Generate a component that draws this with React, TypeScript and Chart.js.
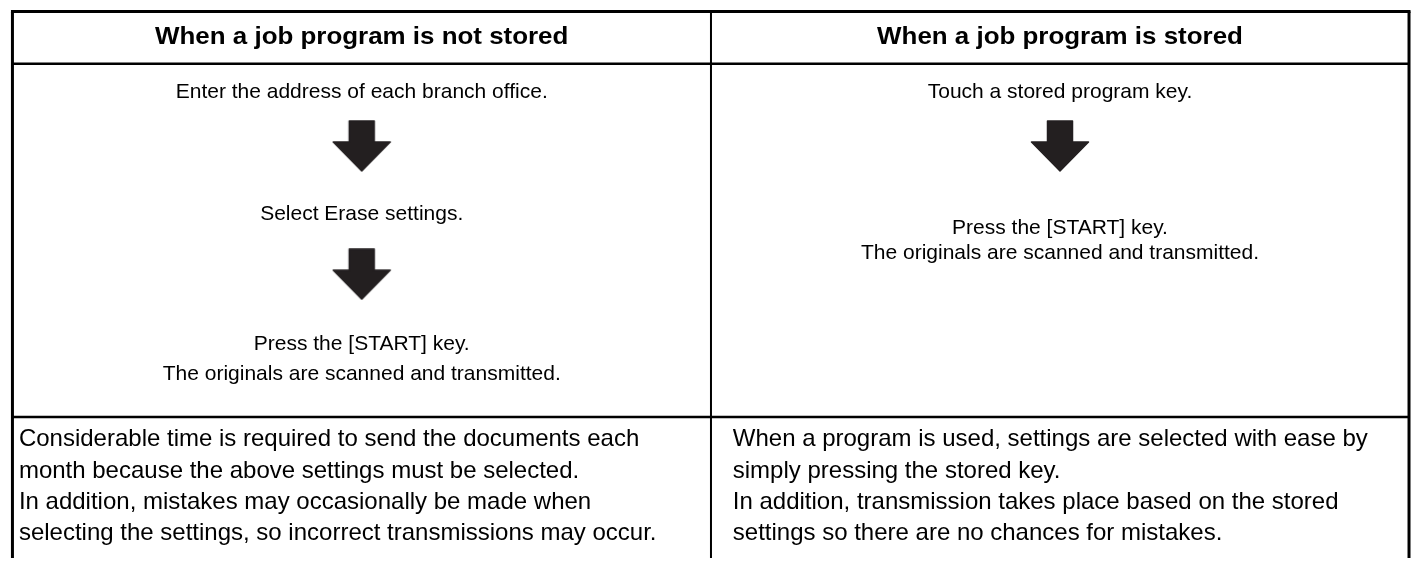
import { useEffect, useRef } from "react";
import { Chart, registerables } from "chart.js";

Chart.register(...registerables);

// ---------- data ----------
const columnHeaders = ["When a job program is not stored", "When a job program is stored"];

const notStoredSteps: string[][] = [
  ["Enter the address of each branch office."],
  ["Select Erase settings."],
  ["Press the [START] key.", "The originals are scanned and transmitted."],
];

const storedSteps: string[][] = [
  ["Touch a stored program key."],
  ["Press the [START] key.", "The originals are scanned and transmitted."],
];

const notStoredNotes = [
  "Considerable time is required to send the documents each",
  "month because the above settings must be selected.",
  "In addition, mistakes may occasionally be made when",
  "selecting the settings, so incorrect transmissions may occur.",
];

const storedNotes = [
  "When a program is used, settings are selected with ease by",
  "simply pressing the stored key.",
  "In addition, transmission takes place based on the stored",
  "settings so there are no chances for mistakes.",
];

// ---------- layout (scale units = pixels) ----------
const W = 1417;
const H = 562;
const L = {
  left: 6.5,
  right: 1415,
  top: 5.5,
  colDiv: 711,
  headerBottom: 59,
  rowDiv: 420,
  headerBase: 39,
  // text baselines per step
  stepBase: [
    [[94], [219], [352, 382]],
    [[94], [233, 259]],
  ],
  // arrow top y between consecutive steps
  arrowTop: [[117, 248], [117]],
  notesBase: [450, 482, 514, 546],
  notesX: [13, 733],
};

const FONT = '"Liberation Sans", Arial, Helvetica, sans-serif';
const INK = "#000000";
const ARROW = "#231F20";

const steps = [notStoredSteps, storedSteps];
const notes = [notStoredNotes, storedNotes];

function colCenter(i: number) {
  return i === 0 ? (L.left + L.colDiv) / 2 : (L.colDiv + L.right) / 2;
}

function makeArrow(): HTMLCanvasElement {
  const c = document.createElement("canvas");
  c.width = 60;
  c.height = 52;
  const g = c.getContext("2d")!;
  g.fillStyle = ARROW;
  g.strokeStyle = ARROW;
  g.lineJoin = "round";
  g.lineWidth = 1.5;
  g.beginPath();
  g.moveTo(17.5, 1);
  g.lineTo(42.5, 1);
  g.lineTo(42.5, 22);
  g.lineTo(58.5, 22);
  g.lineTo(30, 51);
  g.lineTo(1.5, 22);
  g.lineTo(17.5, 22);
  g.closePath();
  g.fill();
  g.stroke();
  return c;
}

function scaledText(ctx: CanvasRenderingContext2D, t: string, x: number, y: number, sx: number) {
  ctx.save();
  ctx.translate(x, y);
  ctx.scale(sx, 1);
  ctx.fillText(t, 0, 0);
  ctx.restore();
}

const tablePlugin = {
  id: "tablePlugin",
  beforeDatasetsDraw(chart: any) {
    const { ctx, scales } = chart;
    const px = (v: number) => scales.x.getPixelForValue(v);
    const py = (v: number) => scales.y.getPixelForValue(v);
    ctx.save();
    ctx.fillStyle = "#ffffff";
    ctx.fillRect(0, 0, chart.width, chart.height);
    ctx.strokeStyle = INK;
    const line = (x1: number, y1: number, x2: number, y2: number, w: number) => {
      ctx.lineWidth = w;
      ctx.beginPath();
      ctx.moveTo(px(x1), py(y1));
      ctx.lineTo(px(x2), py(y2));
      ctx.stroke();
    };
    line(L.left - 1.5, L.top, L.right + 1.5, L.top, 3);
    line(L.left, L.top, L.left, H + 2, 3);
    line(L.right, L.top, L.right, H + 2, 3);
    line(L.colDiv, L.top, L.colDiv, H + 2, 2);
    line(L.left, L.headerBottom, L.right, L.headerBottom, 2.5);
    line(L.left, L.rowDiv, L.right, L.rowDiv, 2.5);
    ctx.restore();
  },
  afterDatasetsDraw(chart: any) {
    const { ctx, scales } = chart;
    const px = (v: number) => scales.x.getPixelForValue(v);
    const py = (v: number) => scales.y.getPixelForValue(v);
    ctx.save();
    ctx.fillStyle = INK;
    ctx.textBaseline = "alphabetic";
    // headers
    ctx.textAlign = "center";
    ctx.font = `bold 24px ${FONT}`;
    columnHeaders.forEach((h, i) => scaledText(ctx, h, px(colCenter(i)), py(L.headerBase), 1.08));
    // steps
    ctx.font = `21px ${FONT}`;
    steps.forEach((col, ci) => {
      col.forEach((step, si) => {
        step.forEach((t, li) => {
          ctx.fillText(t, px(colCenter(ci)), py(L.stepBase[ci][si][li]));
        });
      });
    });
    // notes
    ctx.textAlign = "left";
    ctx.font = `24px ${FONT}`;
    notes.forEach((col, ci) => {
      col.forEach((t, li) => ctx.fillText(t, px(L.notesX[ci]), py(L.notesBase[li])));
    });
    ctx.restore();
  },
};

export default function App() {
  const ref = useRef<HTMLCanvasElement | null>(null);

  useEffect(() => {
    document.body.style.margin = "0";
    const canvas = ref.current;
    if (!canvas) return;
    const arrowImg = makeArrow();
    const arrowPoints: { x: number; y: number }[] = [];
    steps.forEach((col, ci) => {
      for (let i = 0; i < col.length - 1; i++) {
        arrowPoints.push({ x: colCenter(ci), y: L.arrowTop[ci][i] + 26 });
      }
    });
    const chart = new Chart(canvas, {
      type: "scatter",
      data: {
        datasets: [
          {
            label: "arrows",
            data: arrowPoints,
            pointStyle: arrowImg as any,
            pointRadius: 5,
            showLine: false,
          },
        ],
      },
      plugins: [tablePlugin],
      options: {
        responsive: false,
        animation: false,
        events: [],
        layout: { padding: 0 },
        plugins: { legend: { display: false }, tooltip: { enabled: false } },
        scales: {
          x: { type: "linear", min: 0, max: W, display: false },
          y: { type: "linear", min: 0, max: H, reverse: true, display: false },
        },
      },
    });
    return () => chart.destroy();
  }, []);

  return (
    <div style={{ width: W, height: H, background: "#fff" }}>
      <canvas ref={ref} width={W} height={H} style={{ display: "block", width: W, height: H }} />
    </div>
  );
}
